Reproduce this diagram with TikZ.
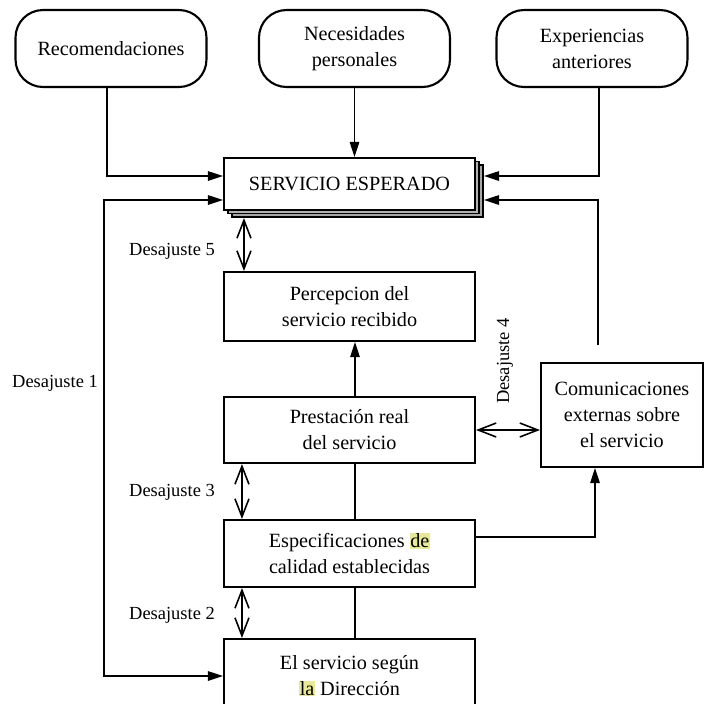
\documentclass[tikz,border=0pt]{standalone}
\usepackage{fontspec}
\setmainfont{Liberation Serif}
\usetikzlibrary{arrows.meta,calc,positioning,shadows}
\definecolor{markyellow}{RGB}{232,232,150}
\newcommand{\marked}[1]{{\setlength{\fboxsep}{0.4pt}\colorbox{markyellow}{#1}}}

\begin{document}
\begin{tikzpicture}[x=0.02cm,y=-0.02cm,>={Triangle[length=3mm,width=1.9mm]},
  box/.style={draw,line width=1.2pt,fill=white,align=center,inner sep=0pt,
    font=\fontsize{11.5}{14.8}\selectfont},
  pill/.style={box,rounded corners=5.5mm,minimum width=3.82cm,minimum height=1.54cm},
  stage/.style={box,minimum width=5.02cm},
  link/.style={line width=0.7pt},
  gaparrow/.style={line width=0.9pt,
    {Straight Barb[length=3.6mm,width=2.8mm]}-{Straight Barb[length=3.6mm,width=2.8mm]}},
  gaplabel/.style={font=\fontsize{10.5}{12}\selectfont}]
  \useasboundingbox (0,0) rectangle (704,704);
  % where the expectation comes from
  \node[pill] (rec) at (111,48.5) {Recomendaciones};
  \node[pill] (nec) at (354.5,48.5) {Necesidades\\personales};
  \node[pill] (exp) at (592,48.5) {Experiencias\\anteriores};
  % the central column
  \node[stage,minimum height=1.04cm,
    copy shadow={shadow xshift=1.6mm,shadow yshift=-1.4mm,draw=black,fill=gray!70,line width=1.2pt},
    copy shadow={shadow xshift=0.8mm,shadow yshift=-0.7mm,draw=black,fill=gray!60,line width=0.6pt}]
    (serv) at (349.5,184) {SERVICIO ESPERADO};
  \node[stage,minimum height=1.38cm] (perc) at (349.5,306.5) {Percepcion del\\servicio recibido};
  \node[stage,minimum height=1.32cm] (pres) at (349.5,430) {Prestación real\\del servicio};
  \node[stage,minimum height=1.34cm] (espe) at (349.5,553.5) {Especificaciones \marked{de}\\calidad establecidas};
  \node[stage,minimum height=1.48cm] (dir) at (349.5,676) {El servicio según\\\marked{la} Dirección};
  \node[box,minimum width=3.24cm,minimum height=2.08cm] (com) at (622,415)
    {Comunicaciones\\externas sobre\\el servicio};
  % gap labels
  \node[gaplabel] (d1) at (55,383) {Desajuste 1};
  \node[gaplabel] (d2) at (172,615) {Desajuste 2};
  \node[gaplabel] (d3) at (172,492) {Desajuste 3};
  \node[gaplabel,rotate=90] (d4) at (505,361) {Desajuste 4};
  \node[gaplabel] (d5) at (172,251) {Desajuste 5};
  \coordinate (comtop) at (598,345);
  \coordinate (loop) at (104,440);
  % connectors
  \draw[link,->] ([xshift=-0.8mm]rec.south) |- ([yshift=1.6mm]serv.west);
  \draw[link,->] (nec.south) -- (nec.south |- serv.north);
  \draw[link,->] ([xshift=1.4mm]exp.south) |- ([xshift=1.6mm,yshift=1.6mm]serv.east);
  \draw[link,->] (comtop) |- ([xshift=1.6mm,yshift=-3.2mm]serv.east);
  \draw[link,<->] ([yshift=-3.2mm]serv.west) -| (loop) |- (dir.west);
  \draw[link,->] ([xshift=1.1mm]pres.north) -- ([xshift=1.1mm]perc.south);
  \draw[link] ([xshift=1.1mm]pres.south) -- ([xshift=1.1mm]espe.north);
  \draw[link] ([xshift=1.1mm]espe.south) -- ([xshift=1.1mm]dir.north);
  \draw[link,->] ([yshift=3.3mm]espe.east) -| ([xshift=-5.4mm]com.south);
  \draw[gaparrow] ([xshift=4.2mm,yshift=-1.4mm]serv.south west) -- ([xshift=4.2mm]perc.north west);
  \draw[gaparrow] ([xshift=3.8mm]pres.south west) -- ([xshift=3.8mm]espe.north west);
  \draw[gaparrow] ([xshift=3.8mm]espe.south west) -- ([xshift=3.8mm]dir.north west);
  \draw[gaparrow] (pres.east) -- (pres.east -| com.west);
\end{tikzpicture}
\end{document}
